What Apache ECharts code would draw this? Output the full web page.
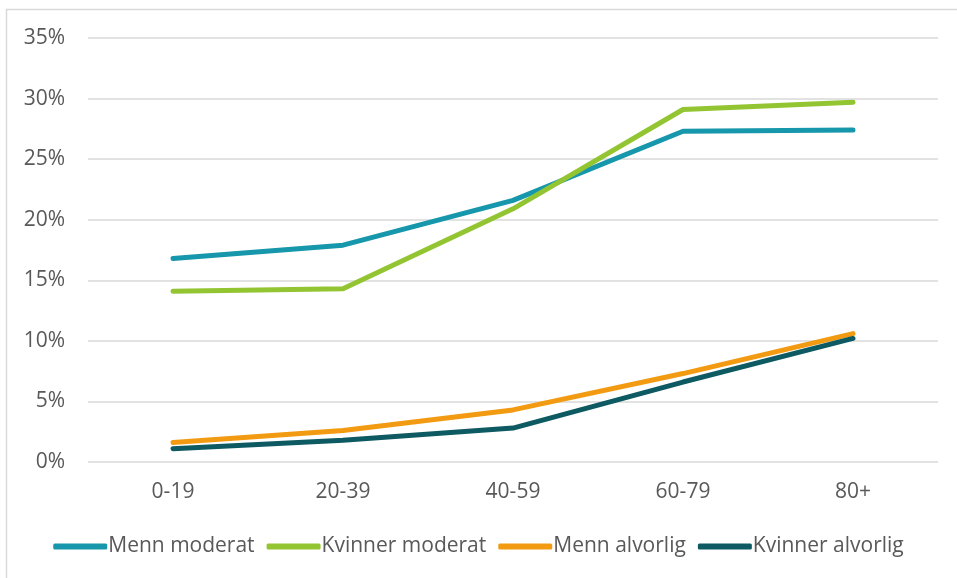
<!DOCTYPE html>
<html>
<head>
<meta charset="utf-8">
<script src="https://cdn.jsdelivr.net/npm/echarts@6/dist/echarts.min.js"></script>
<style>
  html, body { margin: 0; padding: 0; background: #fff; }
  #main { width: 957px; height: 578px; }
</style>
</head>
<body>
<div id="main"></div>
<script>
// aldersgrupper
const categories = ['0-19', '20-39', '40-59', '60-79', '80+'];
const seriesNames = ['Menn moderat', 'Kvinner moderat', 'Menn alvorlig', 'Kvinner alvorlig'];
// andel i prosent
const mennModerat = [16.8, 17.9, 21.6, 27.3, 27.4];
const kvinnerModerat = [14.1, 14.3, 20.9, 29.1, 29.7];
const mennAlvorlig = [1.6, 2.6, 4.3, 7.3, 10.6];
const kvinnerAlvorlig = [1.1, 1.8, 2.8, 6.6, 10.2];
const yTicks = [0, 5, 10, 15, 20, 25, 30, 35];

const colors = ['#1797AB', '#93C532', '#F29B12', '#0D5A62'];
const seriesData = [mennModerat, kvinnerModerat, mennAlvorlig, kvinnerAlvorlig];

let myChart = echarts.init(document.getElementById('main'));
let option = {
    backgroundColor: '#fff',
    textStyle: { fontFamily: 'Open Sans' },
    graphic: [{
        type: 'rect',
        shape: { x: 6.5, y: 9.5, width: 960, height: 600 },
        style: { fill: 'none', stroke: '#d9d9d9', lineWidth: 1.5 },
        silent: true
    }],
    grid: { left: 88, right: 19, top: 38, bottom: 116 },
    legend: {
        data: seriesNames,
        bottom: 16,
        left: 'center',
        itemWidth: 54,
        itemHeight: 6,
        itemGap: 12,
        icon: 'roundRect',
        textStyle: { fontSize: 21, color: '#595959', padding: [0, 0, 0, -4] }
    },
    xAxis: {
        type: 'category',
        data: categories,
        boundaryGap: true,
        axisLine: { show: false },
        axisTick: { show: false },
        axisLabel: { color: '#595959', fontSize: 21, margin: 20 }
    },
    yAxis: {
        type: 'value',
        min: 0,
        max: yTicks[yTicks.length - 1],
        interval: 5,
        axisLabel: { color: '#595959', fontSize: 21, margin: 23, formatter: '{value}%' },
        splitLine: { lineStyle: { color: '#d9d9d9', width: 1.5 } },
        axisLine: { show: false },
        axisTick: { show: false }
    },
    series: seriesNames.map(function (name, i) {
        return {
            name: name,
            type: 'line',
            data: seriesData[i],
            symbol: 'none',
            smooth: false,
            itemStyle: { color: colors[i] },
            lineStyle: { color: colors[i], width: 5, cap: 'round' }
        };
    })
};
myChart.setOption(option);
window.onresize = function () {
    myChart.resize();
};
</script>
</body>
</html>
